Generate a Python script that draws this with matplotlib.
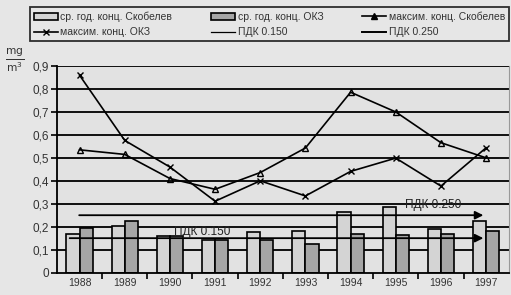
import numpy as np
import matplotlib
matplotlib.use('Agg')
import matplotlib.pyplot as plt
from matplotlib.patches import Patch
from matplotlib.lines import Line2D

plt.rcParams['font.family'] = ['Liberation Sans', 'DejaVu Sans']

# данные
years = ['1988', '1989', '1990', '1991', '1992', '1993', '1994', '1995', '1996', '1997']
avg_skob = [0.17, 0.205, 0.16, 0.14, 0.177, 0.183, 0.263, 0.285, 0.188, 0.225]
avg_okz = [0.195, 0.225, 0.16, 0.14, 0.144, 0.124, 0.167, 0.164, 0.167, 0.182]
max_skob = [0.535, 0.515, 0.41, 0.363, 0.436, 0.543, 0.786, 0.70, 0.566, 0.50]
max_okz = [0.86, 0.576, 0.46, 0.311, 0.40, 0.334, 0.441, 0.499, 0.377, 0.544]
pdk = [0.15, 0.25]
yticks = [0, 0.1, 0.2, 0.3, 0.4, 0.5, 0.6, 0.7, 0.8, 0.9]
yticklabels = ['0', '0,1', '0,2', '0,3', '0,4', '0,5', '0,6', '0,7', '0,8', '0,9']

bg = '#e6e6e6'
fig = plt.figure(figsize=(5.11, 2.95), dpi=100, facecolor=bg)
ax = fig.add_axes([0.1115, 0.076, 0.884, 0.700], facecolor='#e2e2e2')

x = np.arange(len(years))
w = 0.29
# сетка
for t in yticks[1:]:
    ax.axhline(t, color='k', lw=1.3, zorder=1)

ax.bar(x - 0.145, avg_skob, w, color='#d4d4d4', edgecolor='k', lw=1.2, zorder=2)
ax.bar(x + 0.145, avg_okz, w, color='#a6a6a6', edgecolor='k', lw=1.2, zorder=2)

ax.plot(x, max_skob, color='k', lw=1.2, marker='^', ms=4, mfc='none', mew=1.0, zorder=4)
ax.plot(x, max_okz, color='k', lw=1.2, marker='x', ms=4, mew=1.0, zorder=4)

# ПДК
ax.annotate('', xy=(9.0, pdk[0]), xytext=(-0.28, pdk[0]),
            arrowprops=dict(arrowstyle='-|>', color='k', lw=1.3, mutation_scale=12), zorder=3)
ax.annotate('', xy=(9.0, pdk[1]), xytext=(-0.07, pdk[1]),
            arrowprops=dict(arrowstyle='-|>', color='k', lw=1.3, mutation_scale=12), zorder=3)
ax.text(2.1, 0.176, 'ПДК 0.150', fontsize=8.5, va='center', color='#222222', zorder=5)
ax.text(7.2, 0.293, 'ПДК 0.250', fontsize=8.5, va='center', color='#222222', zorder=5)

ax.set_xlim(-0.5, 9.5)
ax.set_ylim(0, 0.9)
ax.set_yticks(yticks)
ax.set_yticklabels(yticklabels, fontsize=8.5, color='#333333')
ax.set_xticks(x)
ax.set_xticklabels(years, fontsize=7.5, color='#333333')
ax.set_xticks(np.arange(0.5, 9.5, 1), minor=True)
ax.tick_params(axis='x', which='major', length=0, pad=4)
ax.tick_params(axis='x', which='minor', length=4, width=1.2, direction='out')
ax.tick_params(axis='y', length=4, width=1.2, direction='out', pad=2)
ax.spines['top'].set_visible(False)
ax.spines['right'].set_color('#999999')
ax.spines['right'].set_linewidth(0.8)
ax.spines['left'].set_linewidth(1.3)
ax.spines['bottom'].set_linewidth(1.3)

fig.text(0.028, 0.795, r'$\frac{\mathrm{mg}}{\mathrm{m}^3}$', fontsize=11, ha='center', va='center', color='#333333')

# легенда
h_as = Patch(facecolor='#d4d4d4', edgecolor='k', lw=1.2)
h_ao = Patch(facecolor='#a6a6a6', edgecolor='k', lw=1.2)
h_ms = Line2D([], [], color='k', lw=1.2, marker='^', ms=4)
h_mo = Line2D([], [], color='k', lw=1.2, marker='x', ms=4)
h_p1 = Line2D([], [], color='k', lw=0.9)
h_p2 = Line2D([], [], color='k', lw=1.4)
handles = [h_as, h_mo, h_ao, h_p1, h_ms, h_p2]
labels = ['ср. год. конц. Скобелев', 'максим. конц. ОКЗ', 'ср. год. конц. ОКЗ',
          'ПДК 0.150', 'максим. конц. Скобелев', 'ПДК 0.250']
leg = fig.legend(handles, labels, ncol=3, loc='center', bbox_to_anchor=(0.059, 0.855, 0.937, 0.125),
                 bbox_transform=fig.transFigure, mode='expand', fontsize=7.5, frameon=True,
                 fancybox=False, handlelength=2.3, handleheight=0.6, handletextpad=0.2, borderpad=0.4,
                 labelspacing=0.5, borderaxespad=0, facecolor=bg, edgecolor='k')
leg.get_frame().set_linewidth(1.3)
for t in leg.get_texts():
    t.set_color('#333333')

fig.savefig('out.png', dpi=100, facecolor=bg)
